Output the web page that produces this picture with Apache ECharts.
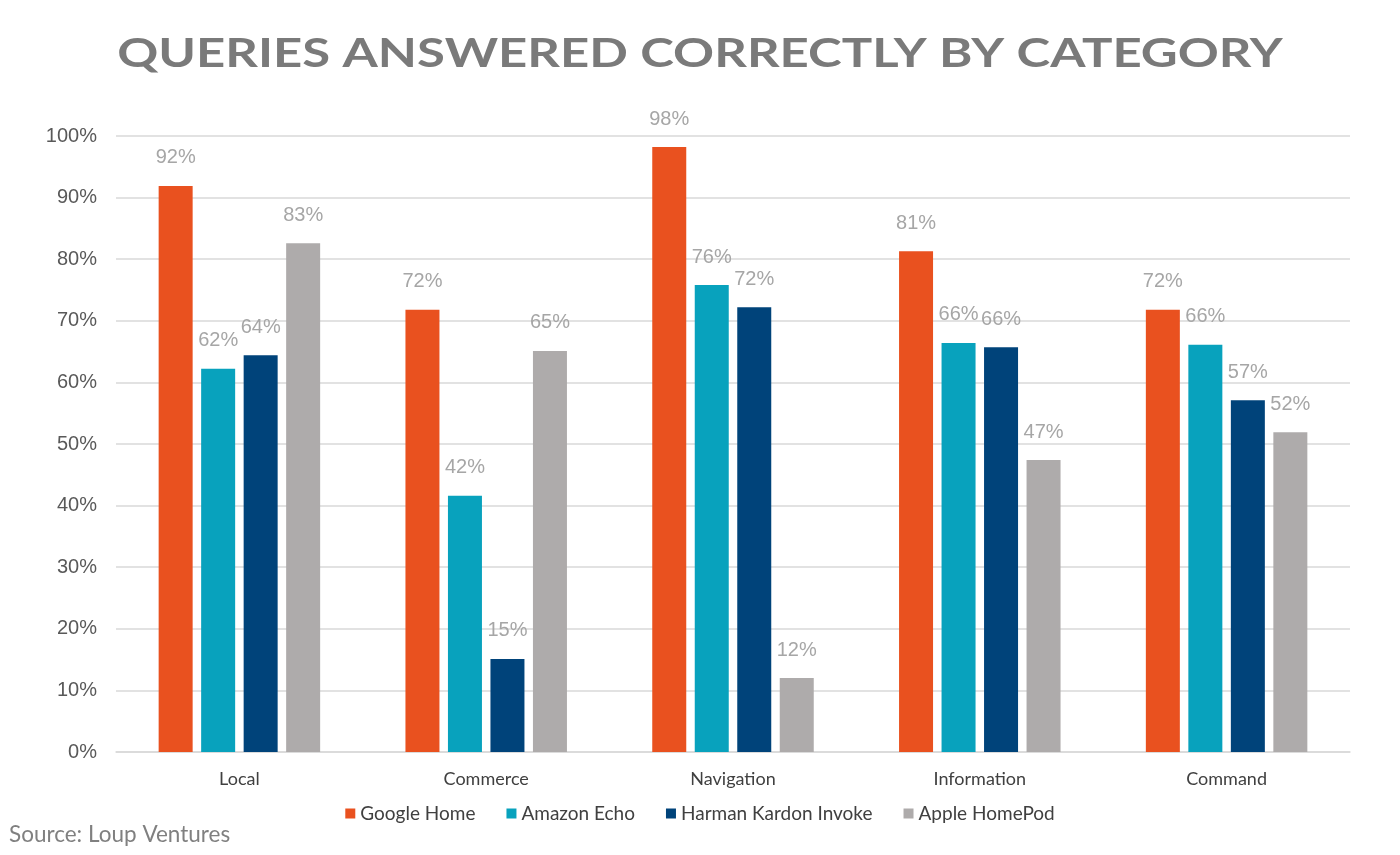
<!DOCTYPE html>
<html>
<head>
<meta charset="utf-8">
<script src="https://cdn.jsdelivr.net/npm/echarts@6/dist/echarts.min.js"></script>
<style>html,body{margin:0;padding:0;background:#fff;}#c{width:1400px;height:855px;}</style>
</head>
<body>
<div id="c"></div>
<script>
const categories = ['Local', 'Commerce', 'Navigation', 'Information', 'Command'];
const seriesNames = ['Google Home', 'Amazon Echo', 'Harman Kardon Invoke', 'Apple HomePod'];
const googleHome = [91.9, 71.8, 98.2, 81.3, 71.8];
const amazonEcho = [62.2, 41.6, 75.8, 66.4, 66.1];
const harmanKardon = [64.4, 15.1, 72.2, 65.7, 57.1];
const appleHomePod = [82.6, 65.1, 12.0, 47.4, 51.9];
const yTicks = [0, 10, 20, 30, 40, 50, 60, 70, 80, 90, 100];
const colors = ['#E9511F', '#08A2BD', '#00437A', '#AEABAB'];

const chart = echarts.init(document.getElementById('c'));
const values = [googleHome, amazonEcho, harmanKardon, appleHomePod];
chart.setOption({
  animation: false,
  color: colors,
  graphic: [{
    type: 'text',
    left: 'center',
    top: 33,
    scaleX: 1.24,
    originX: 695,
    style: {
      text: 'QUERIES ANSWERED CORRECTLY BY CATEGORY',
      font: 'bold 41px Lato',
      fill: '#7A7A7A'
    }
  }, {
    type: 'text',
    left: 9,
    top: 823,
    style: {
      text: 'Source: Loup Ventures',
      font: '22.5px Lato',
      fill: '#808080'
    }
  }],
  legend: {
    data: seriesNames,
    bottom: 27,
    left: 'center',
    itemWidth: 10,
    itemHeight: 10,
    itemGap: 31,
    icon: 'rect',
    textStyle: { fontFamily: 'Lato', fontSize: 19, color: '#404040' }
  },
  grid: { left: 116, right: 50, top: 136, bottom: 103, containLabel: false },
  xAxis: {
    type: 'category',
    data: categories,
    axisTick: { show: false },
    axisLine: { lineStyle: { color: '#D9D9D9', width: 1.5 } },
    axisLabel: { fontFamily: 'Lato', fontSize: 18, color: '#404040', margin: 18 }
  },
  yAxis: {
    type: 'value',
    min: yTicks[0],
    max: yTicks[yTicks.length - 1],
    interval: 10,
    axisLine: { show: false },
    axisTick: { show: false },
    splitLine: { lineStyle: { color: '#D9D9D9', width: 1.5 } },
    axisLabel: { formatter: v => v + '%', fontFamily: 'Liberation Sans', fontSize: 20, color: '#595959', margin: 19 }
  },
  series: seriesNames.map((n, i) => ({
    name: n,
    type: 'bar',
    data: values[i],
    barWidth: 34,
    barGap: '25%',
    label: {
      show: true,
      position: 'top',
      distance: 18,
      formatter: p => Math.round(p.value) + '%',
      fontFamily: 'Liberation Sans',
      fontSize: 20,
      color: '#A6A6A6'
    }
  }))
});
</script>
</body>
</html>
